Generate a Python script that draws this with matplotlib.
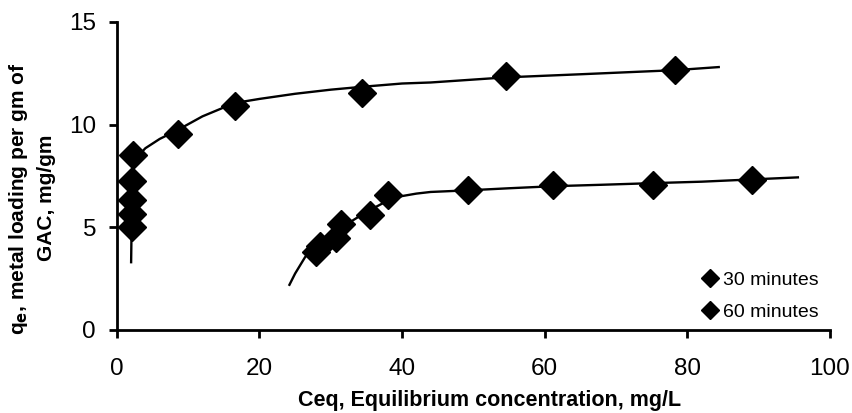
import matplotlib
matplotlib.use("Agg")
import matplotlib.pyplot as plt
from matplotlib.lines import Line2D

plt.rcParams["font.family"] = ["Liberation Sans", "DejaVu Sans"]

# 60 minutes (upper isotherm), measured points
x60 = [2.1, 2.1, 2.1, 2.1, 2.2, 8.6, 16.5, 34.4, 54.6, 78.3]
y60 = [5.0, 5.65, 6.35, 7.25, 8.5, 9.55, 10.9, 11.55, 12.35, 12.68]
# fitted curve for upper isotherm
cx60 = [2.0, 2.05, 2.1, 2.2, 2.4, 2.8, 4.0, 6.0, 8.6, 12.0, 16.5, 20.0, 25.0, 30.0, 34.4, 40.0, 44.0, 54.6, 65.0, 78.3, 84.4]
cy60 = [3.3, 4.6, 6.0, 7.2, 8.0, 8.4, 8.85, 9.3, 9.75, 10.4, 11.05, 11.25, 11.5, 11.7, 11.84, 12.0, 12.05, 12.3, 12.45, 12.65, 12.8]

# 30 minutes (lower isotherm), measured points
x30 = [27.9, 28.5, 30.7, 31.4, 35.5, 38.0, 49.3, 61.2, 75.2, 89.0]
y30 = [3.8, 4.1, 4.5, 5.15, 5.6, 6.55, 6.8, 7.05, 7.05, 7.3]
cx30 = [24.2, 25.0, 26.4, 28.0, 30.0, 32.0, 35.0, 38.0, 40.0, 42.0, 44.0, 49.3, 55.0, 61.2, 68.0, 75.2, 82.0, 89.0, 95.5]
cy30 = [2.2, 2.75, 3.55, 4.1, 4.6, 5.1, 5.75, 6.3, 6.52, 6.64, 6.72, 6.8, 6.9, 7.0, 7.07, 7.15, 7.22, 7.33, 7.43]

fig = plt.figure(figsize=(8.53, 4.13), dpi=100)
ax = fig.add_axes([0.137, 0.201, 0.836, 0.746])

ax.plot(cx60, cy60, "-", color="black", lw=1.7, zorder=2)
ax.plot(cx30, cy30, "-", color="black", lw=1.7, zorder=2)
ax.plot(x60, y60, "D", color="black", ms=14, ls="none", zorder=3)
ax.plot(x30, y30, "D", color="black", ms=14, ls="none", zorder=3)

ax.set_xlim(0, 100); ax.set_ylim(0, 15)
ax.set_xticks([0, 20, 40, 60, 80, 100]); ax.set_yticks([0, 5, 10, 15])
for s in ("top", "right"):
    ax.spines[s].set_visible(False)
for s in ("left", "bottom"):
    ax.spines[s].set_linewidth(2)
ax.tick_params(direction="out", length=6, width=2, labelsize=17.5)
ax.tick_params(axis="x", pad=14)
ax.tick_params(axis="y", pad=9)

fig.text(0.574, 0.03, "Ceq, Equilibrium concentration, mg/L", ha="center", va="center",
         fontsize=15.5, fontweight="bold")
fig.text(0.022, 0.52, "q$_\\mathbf{e}$, metal loading per gm of", rotation=90, ha="center", va="center",
         fontsize=15, fontweight="bold")
fig.text(0.055, 0.52, "GAC, mg/gm", rotation=90, ha="center", va="center",
         fontsize=15, fontweight="bold")

handles = [Line2D([], [], marker="D", color="black", ls="none", ms=9) for _ in range(2)]
fig.legend(handles, ["30 minutes", "60 minutes"], loc="upper left", bbox_to_anchor=(0.823, 0.343),
           frameon=False, fontsize=14, handletextpad=0.3, handlelength=0.8, labelspacing=0.75,
           borderpad=0, borderaxespad=0)

fig.savefig("out.png", dpi=100)
